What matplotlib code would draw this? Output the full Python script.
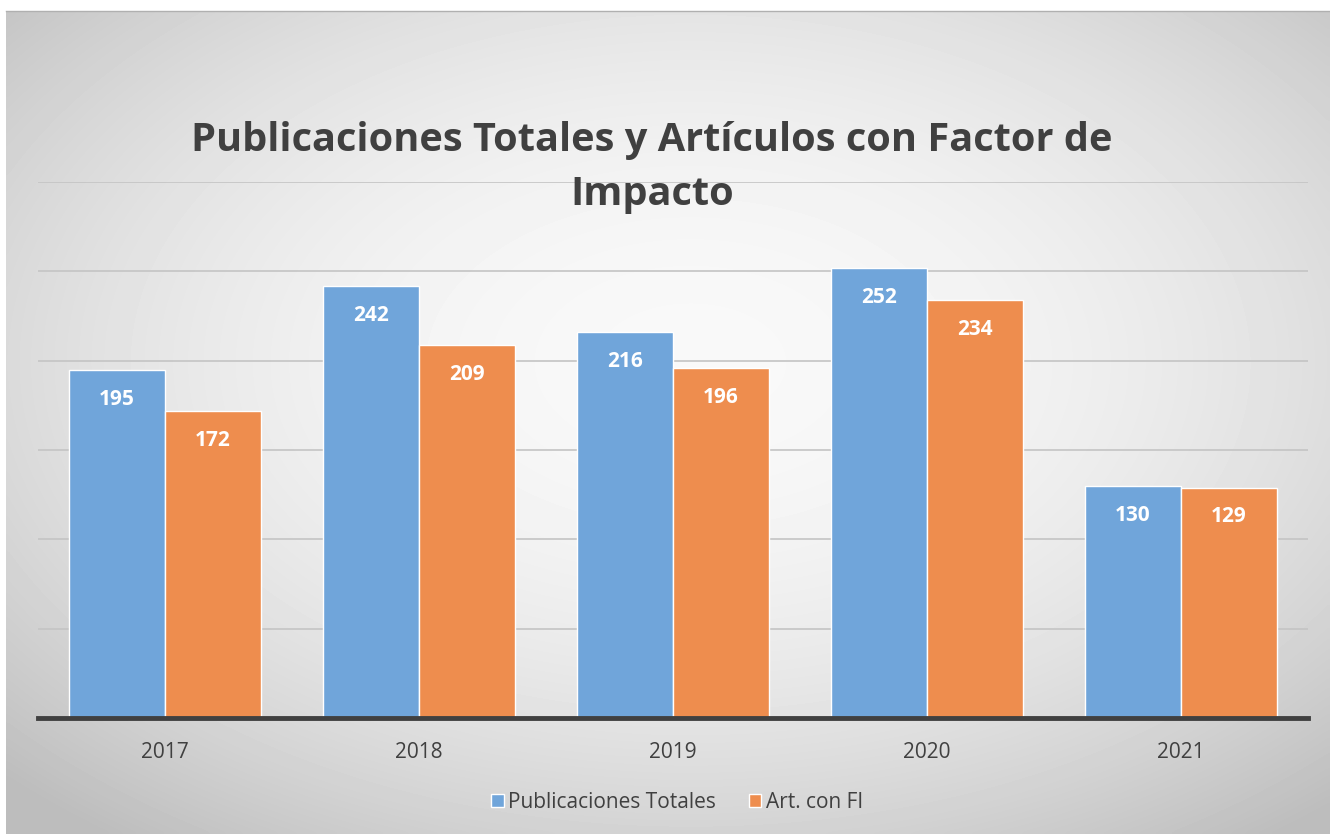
import numpy as np
import matplotlib.pyplot as plt

years = ["2017", "2018", "2019", "2020", "2021"]
publicaciones = [195, 242, 216, 252, 130]
articulos_fi = [172, 209, 196, 234, 129]

W, H = 1330, 834
fig = plt.figure(figsize=(W / 100, H / 100), dpi=100)
fig.patch.set_facecolor("white")

# radial gradient background of the chart frame
bg = fig.add_axes([6 / W, 0, 1 - 6 / W, 1 - 11 / H])
yy, xx = np.mgrid[0:200, 0:320]
cx, cy = 165, 85
r = np.sqrt(((xx - cx) / 320) ** 2 + ((yy - cy) / 200) ** 2)
shade = 0.975 - 0.45 * r ** 2
shade = np.clip(shade, 0.74, 0.98)
bg.imshow(shade, cmap="gray", vmin=0, vmax=1, aspect="auto",
          extent=[0, 1, 0, 1], interpolation="bicubic")
bg.set_axis_off()
fig.add_artist(plt.Line2D([6 / W, 1], [1 - 11 / H, 1 - 11 / H],
                          color="#b0b0b0", lw=1))

# plot area: x 38..1308, y 182 (300) .. 718 (0)
ax = fig.add_axes([38 / W, 1 - 718 / H, 1270 / W, (718 - 182) / H])
ax.set_facecolor("none")
x = np.arange(len(years))
bw = 0.378
b1 = ax.bar(x - bw / 2, publicaciones, bw, color="#70a5da",
            edgecolor="white", linewidth=1, label="Publicaciones Totales", zorder=3)
b2 = ax.bar(x + bw / 2, articulos_fi, bw, color="#ee8d4e",
            edgecolor="white", linewidth=1, label="Art. con FI", zorder=3)

for bars in (b1, b2):
    for b in bars:
        ax.text(b.get_x() + b.get_width() / 2, b.get_height() - 16.5,
                str(int(b.get_height())), ha="center", va="center",
                color="white", fontsize=15, fontweight="bold",
                family="Open Sans", zorder=4)

ax.set_xlim(-0.5, len(years) - 0.5)
ax.set_ylim(0, 300)
ax.set_yticks(np.arange(50, 301, 50))
ax.yaxis.grid(True, color="#c4c4c4", lw=1.2, zorder=0)
ax.tick_params(axis="y", left=False, labelleft=False)
ax.set_xticks(x)
ax.set_xticklabels(years, fontsize=15, color="#404040", family="Open Sans")
ax.tick_params(axis="x", length=0, pad=17)
for s in ["top", "right", "left"]:
    ax.spines[s].set_visible(False)
ax.spines["bottom"].set_color("#404040")
ax.spines["bottom"].set_linewidth(3.5)
ax.spines["bottom"].set_zorder(5)

fig.text(652 / W, 1 - 167 / H,
         "Publicaciones Totales y Artículos con Factor de\nImpacto",
         ha="center", va="center", fontsize=28.6, fontweight="bold",
         color="#404040", family="Open Sans", linespacing=1.5)

fig.legend(handles=[b1, b2], loc="center", bbox_to_anchor=(677 / W, 1 - 802 / H),
           ncol=2, frameon=False, handlelength=0.6,
           handleheight=0.6, handletextpad=0.2, columnspacing=1.6,
           prop={"family": "Open Sans", "size": 15}, labelcolor="#404040")

fig.savefig("out.png", dpi=100, facecolor="white")
